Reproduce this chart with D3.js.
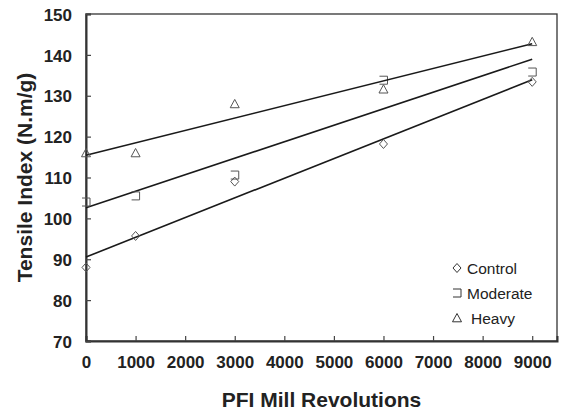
<!DOCTYPE html>
<html><head><meta charset="utf-8">
<script src="https://cdn.jsdelivr.net/npm/d3@7"></script>
<style>body{margin:0;background:#fff}svg{display:block}</style>
</head><body>
<svg id="c" width="561" height="414"></svg>
<script>
const revolutions = [0, 1000, 3000, 6000, 9000];
const control  = [88, 95.7, 109, 118.2, 133.4];
const moderate = [104, 105.5, 110.6, 133.8, 135.8];
const heavy    = [116, 116, 128, 131.6, 143.2];
const seriesNames = ["Control", "Moderate", "Heavy"];
const xTicks = [0,1000,2000,3000,4000,5000,6000,7000,8000,9000];
const yTicks = [70,80,90,100,110,120,130,140,150];

const svg = d3.select("#c");
const L = 86, R = 557, T = 14, B = 341;
const x = d3.scaleLinear().domain([0, 9500]).range([L, R]);
const y = d3.scaleLinear().domain([70, 150]).range([B, T]);
const font = "'Liberation Sans', Arial, sans-serif";

// frame
svg.append("rect").attr("x", L).attr("y", T).attr("width", R - L).attr("height", B - T)
  .attr("fill", "none").attr("stroke", "#333").attr("stroke-width", 1.3);

// axes
const xAxis = svg.append("g").attr("transform", `translate(0,${B})`)
  .call(d3.axisBottom(x).tickValues(xTicks).tickSize(-5).tickPadding(27).tickFormat(d3.format("d")));
const yAxis = svg.append("g").attr("transform", `translate(${L},0)`)
  .call(d3.axisLeft(y).tickValues(yTicks).tickSize(-5).tickPadding(14).tickFormat(d3.format("d")));
[xAxis, yAxis].forEach(a => {
  a.select(".domain").attr("stroke", "#333").attr("stroke-width", 2);
  a.selectAll(".tick line").attr("stroke", "#444").attr("stroke-width", 1.2);
  a.selectAll(".tick text").attr("fill", "#222").style("font-family", font)
    .style("font-size", "17px").style("font-weight", "bold");
});
xAxis.selectAll(".tick text").attr("dy", "0");
yAxis.selectAll(".tick text").attr("dy", "0.36em");

// titles
svg.append("text").attr("x", (L + R) / 2).attr("y", 407).attr("text-anchor", "middle")
  .style("font-family", font).style("font-size", "21px").style("font-weight", "bold")
  .attr("fill", "#222").text("PFI Mill Revolutions");
svg.append("text").attr("transform", `translate(32,${(T + B) / 2}) rotate(-90)`)
  .attr("text-anchor", "middle")
  .style("font-family", font).style("font-size", "21px").style("font-weight", "bold")
  .attr("fill", "#222").text("Tensile Index (N.m/g)");

// linear fits
function fit(xs, ys) {
  const mx = d3.mean(xs), my = d3.mean(ys);
  const sxy = d3.sum(xs, (v, i) => (v - mx) * (ys[i] - my));
  const sxx = d3.sum(xs, v => (v - mx) * (v - mx));
  const b = sxy / sxx; return [my - b * mx, b];
}
const shapes = {
  Control: "M0,-4.5L4,0L0,4.5L-4,0Z",
  Moderate: "M-4,-4H4V4H-4",
  Heavy: "M0,-4.5L4.5,3.8H-4.5Z"
};
const data = [control, moderate, heavy];
const xMin = revolutions[0], xMax = revolutions[revolutions.length - 1];
data.forEach((vals, k) => {
  const [a, b] = fit(revolutions, vals);
  svg.append("line").attr("x1", x(xMin)).attr("y1", y(a + b * xMin))
    .attr("x2", x(xMax)).attr("y2", y(a + b * xMax))
    .attr("stroke", "#1a1a1a").attr("stroke-width", 1.6);
  svg.append("g").selectAll("path").data(vals).join("path")
    .attr("transform", (d, i) => `translate(${x(revolutions[i])},${y(d)})`)
    .attr("d", shapes[seriesNames[k]])
    .attr("fill", "none").attr("stroke", "#555").attr("stroke-width", 1);
});

// legend
const lg = svg.append("g");
seriesNames.forEach((n, i) => {
  const yy = 268 + i * 25;
  lg.append("path").attr("transform", `translate(457,${yy})`).attr("d", shapes[n])
    .attr("fill", "none").attr("stroke", "#333").attr("stroke-width", 1);
  lg.append("text").attr("x", n === "Heavy" ? 471 : 467).attr("y", yy).attr("dy", "0.36em")
    .style("font-family", font).style("font-size", "15.5px").attr("fill", "#222").text(n);
});
</script>
</body></html>
